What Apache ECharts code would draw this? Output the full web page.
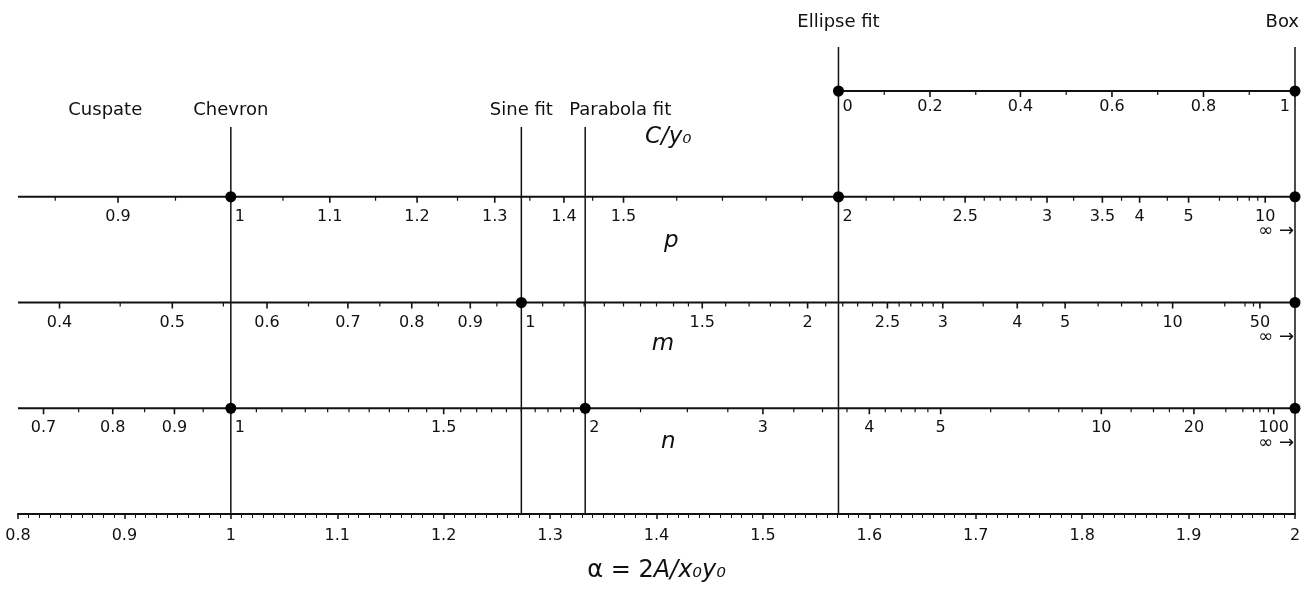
<!DOCTYPE html>
<html>
<head>
<meta charset="utf-8">
<script src="https://cdn.jsdelivr.net/npm/echarts@6/dist/echarts.min.js"></script>
<style>html,body{margin:0;padding:0;background:#fff}#c{width:1307px;height:589px}</style>
</head>
<body>
<div id="c"></div>
<script>
// ---------- data (alpha = 2A/x0y0 positions) ----------
const fitNames = ['Cuspate', 'Chevron', 'Sine fit', 'Parabola fit', 'Ellipse fit', 'Box'];
const fitAlpha = [0.882, 1.0, 1.273, 1.333, 1.571, 2.0];
const fitDots  = [[], ['p', 'n'], ['m'], ['n'], ['C', 'p'], ['C', 'p', 'm', 'n']];

const cLabels = ['0', '0.2', '0.4', '0.6', '0.8', '1'];
const cPos    = [1.571, 1.657, 1.742, 1.828, 1.914, 2.0];
const cMinor  = [1.614, 1.700, 1.785, 1.871, 1.957];

const pLabels = ['0.9', '1', '1.1', '1.2', '1.3', '1.4', '1.5', '2', '2.5', '3', '3.5', '4', '5', '10'];
const pPos    = [0.894, 1.0, 1.093, 1.175, 1.248, 1.313, 1.369, 1.571, 1.690, 1.767, 1.819, 1.854, 1.900, 1.972];
const pMinor  = [0.835, 0.948, 1.049, 1.136, 1.213, 1.281, 1.340, 1.419, 1.462, 1.503, 1.537, 1.597, 1.623,
                 1.648, 1.670, 1.708, 1.723, 1.738, 1.752, 1.792, 1.837, 1.880, 1.929, 1.946, 1.957, 1.965];

const mLabels = ['0.4', '0.5', '0.6', '0.7', '0.8', '0.9', '1', '1.5', '2', '2.5', '3', '4', '5', '10', '50'];
const mPos    = [0.839, 0.945, 1.034, 1.110, 1.170, 1.225, 1.273, 1.443, 1.542, 1.617, 1.669, 1.739, 1.784, 1.885, 1.967];
const mMinor  = [0.896, 0.993, 1.073, 1.140, 1.195, 1.250, 1.293, 1.313, 1.332, 1.351, 1.369, 1.385, 1.400,
                 1.416, 1.430, 1.465, 1.487, 1.507, 1.525, 1.559, 1.575, 1.589, 1.603, 1.628, 1.639, 1.650,
                 1.660, 1.707, 1.763, 1.815, 1.837, 1.856, 1.871, 1.934, 1.953, 1.961];

const nLabels = ['0.7', '0.8', '0.9', '1', '1.5', '2', '3', '4', '5', '10', '20', '100'];
const nPos    = [0.824, 0.889, 0.947, 1.0, 1.2, 1.333, 1.5, 1.6, 1.667, 1.818, 1.905, 1.980];
const nMinor  = [0.857, 0.919, 0.974, 1.024, 1.048, 1.070, 1.091, 1.111, 1.130, 1.149, 1.167, 1.184, 1.216,
                 1.231, 1.245, 1.259, 1.273, 1.286, 1.298, 1.310, 1.322, 1.385, 1.429, 1.467, 1.529, 1.556,
                 1.579, 1.615, 1.630, 1.643, 1.655, 1.714, 1.750, 1.778, 1.800, 1.846, 1.867, 1.882, 1.895,
                 1.935, 1.951, 1.961, 1.967, 1.975];

const alphaTicksMin = 0.8, alphaTicksMax = 2.0, alphaTickStep = 0.1;

// ---------- layout / style ----------
const FONT = 'DejaVu Sans';
const INK = '#111111';
const LEVEL = { C: 4, p: 3, m: 2, n: 1 };
const PX = 105.75;                 // pixels per level unit
const YMAX = 514 / PX;
const lv = px => px / PX;          // pixel distance -> level units
const HIDDEN = { color: 'rgba(0,0,0,0)', opacity: 1 };

const scales = [
  { key: 'C', labels: cLabels, pos: cPos, minor: cMinor, start: 1.571, name: '{i|C/y}{i|₀}', nameAt: 1.411, nameDy: 46, labDy: 16, inf: false },
  { key: 'p', labels: pLabels, pos: pPos, minor: pMinor, start: 0.8, name: '{i|p}', nameAt: 1.414, nameDy: 44, labDy: 20, inf: true },
  { key: 'm', labels: mLabels, pos: mPos, minor: mMinor, start: 0.8, name: '{i|m}', nameAt: 1.406, nameDy: 42, labDy: 20, inf: true },
  { key: 'n', labels: nLabels, pos: nPos, minor: nMinor, start: 0.8, name: '{i|n}', nameAt: 1.411, nameDy: 34, labDy: 20, inf: true }
];

const lineAlphas = fitAlpha.slice(1, 5);
const series = [];

scales.forEach(s => {
  const L = LEVEL[s.key];
  series.push({
    type: 'line', data: [[s.start, L], [2.0, L]], symbol: 'none', silent: true,
    lineStyle: { color: INK, width: 2 }, z: 3
  });
  series.push({
    type: 'scatter', silent: true, symbol: 'rect', symbolSize: [1.2, 4], symbolOffset: [0, 2],
    itemStyle: { color: INK, opacity: 1 }, data: s.minor.map(a => [a, L]), z: 3
  });
  series.push({
    type: 'scatter', silent: true, symbol: 'rect', symbolSize: [1.6, 6], symbolOffset: [0, 3],
    itemStyle: { color: INK, opacity: 1 }, data: s.pos.map(a => [a, L]), z: 3
  });
  series.push({
    type: 'scatter', silent: true, symbolSize: 1, itemStyle: HIDDEN, z: 5,
    data: s.pos.map((a, i) => {
      let align = 'center', dx = 0;
      if (a >= 1.999) { align = 'right'; dx = -5; }
      else if (lineAlphas.some(v => Math.abs(v - a) < 0.002)) { align = 'left'; dx = 4; }
      return {
        value: [a, L],
        label: {
          show: true, position: 'inside', formatter: s.labels[i], align: align,
          verticalAlign: 'middle', offset: [dx, s.labDy],
          fontFamily: FONT, fontSize: 16, color: INK, opacity: 1
        }
      };
    })
  });
  series.push({
    type: 'scatter', silent: true, symbolSize: 1, itemStyle: HIDDEN, z: 5,
    data: [{
      value: [s.nameAt, L],
      label: {
        show: true, position: 'inside', formatter: s.name, offset: [0, s.nameDy],
        verticalAlign: 'middle', align: 'center', opacity: 1,
        rich: { i: { fontFamily: FONT, fontSize: 23, fontStyle: 'italic', color: INK } }
      }
    }]
  });
  if (s.inf) {
    series.push({
      type: 'scatter', silent: true, symbolSize: 1, itemStyle: HIDDEN, z: 5,
      data: [{
        value: [2.0, L],
        label: {
          show: true, position: 'inside', formatter: '∞ →', align: 'right', verticalAlign: 'middle',
          offset: [-1, 35], fontFamily: FONT, fontSize: 18, color: INK, opacity: 1
        }
      }]
    });
  }
});

fitNames.forEach((name, i) => {
  const a = fitAlpha[i];
  const topRow = i >= 4;
  if (i > 0) {
    series.push({
      type: 'line', data: [[a, 0], [a, topRow ? lv(514 - 47) : lv(514 - 127)]], symbol: 'none', silent: true,
      lineStyle: { color: INK, width: 1.5 }, z: 2
    });
  }
  let align = 'center', dx = 0;
  if (name === 'Parabola fit') dx = 35;
  if (a >= 1.999) { align = 'right'; dx = 4; }
  series.push({
    type: 'scatter', silent: true, symbolSize: 1, itemStyle: HIDDEN, z: 5,
    data: [{
      value: [a, topRow ? lv(514 - 22) : lv(514 - 110)],
      label: {
        show: true, position: 'inside', formatter: name, align: align, verticalAlign: 'middle',
        offset: [dx, 0], fontFamily: FONT, fontSize: 18, color: INK, opacity: 1
      }
    }]
  });
  if (fitDots[i].length) {
    series.push({
      type: 'scatter', silent: true, symbol: 'circle', symbolSize: 11, z: 6,
      itemStyle: { color: '#000', opacity: 1 },
      data: fitDots[i].map(k => [a, LEVEL[k]])
    });
  }
});

const chart = echarts.init(document.getElementById('c'), null, { renderer: 'canvas' });
chart.setOption({
  animation: false,
  backgroundColor: '#fff',
  grid: { left: 18, right: 12, top: 0, bottom: 75, containLabel: false },
  xAxis: {
    type: 'value', min: alphaTicksMin, max: alphaTicksMax, interval: alphaTickStep,
    axisLine: { show: true, lineStyle: { color: INK, width: 2 } },
    axisTick: { show: true, length: 5, lineStyle: { color: INK, width: 1.5 } },
    minorTick: { show: true, splitNumber: 10, length: 4, lineStyle: { color: INK, width: 1 } },
    splitLine: { show: false }, minorSplitLine: { show: false },
    axisLabel: {
      show: true, margin: 14, fontFamily: FONT, fontSize: 16, color: INK,
      showMinLabel: true, showMaxLabel: true,
      formatter: v => String(+v.toFixed(1))
    },
    name: '{n|α = 2}{i|A/x₀y₀}',
    nameLocation: 'middle', nameGap: 45,
    nameTextStyle: {
      rich: {
        n: { fontFamily: FONT, fontSize: 24, color: INK },
        i: { fontFamily: FONT, fontSize: 24, fontStyle: 'italic', color: INK }
      }
    }
  },
  yAxis: { type: 'value', min: 0, max: YMAX, show: false },
  series: series
});
</script>
</body>
</html>
